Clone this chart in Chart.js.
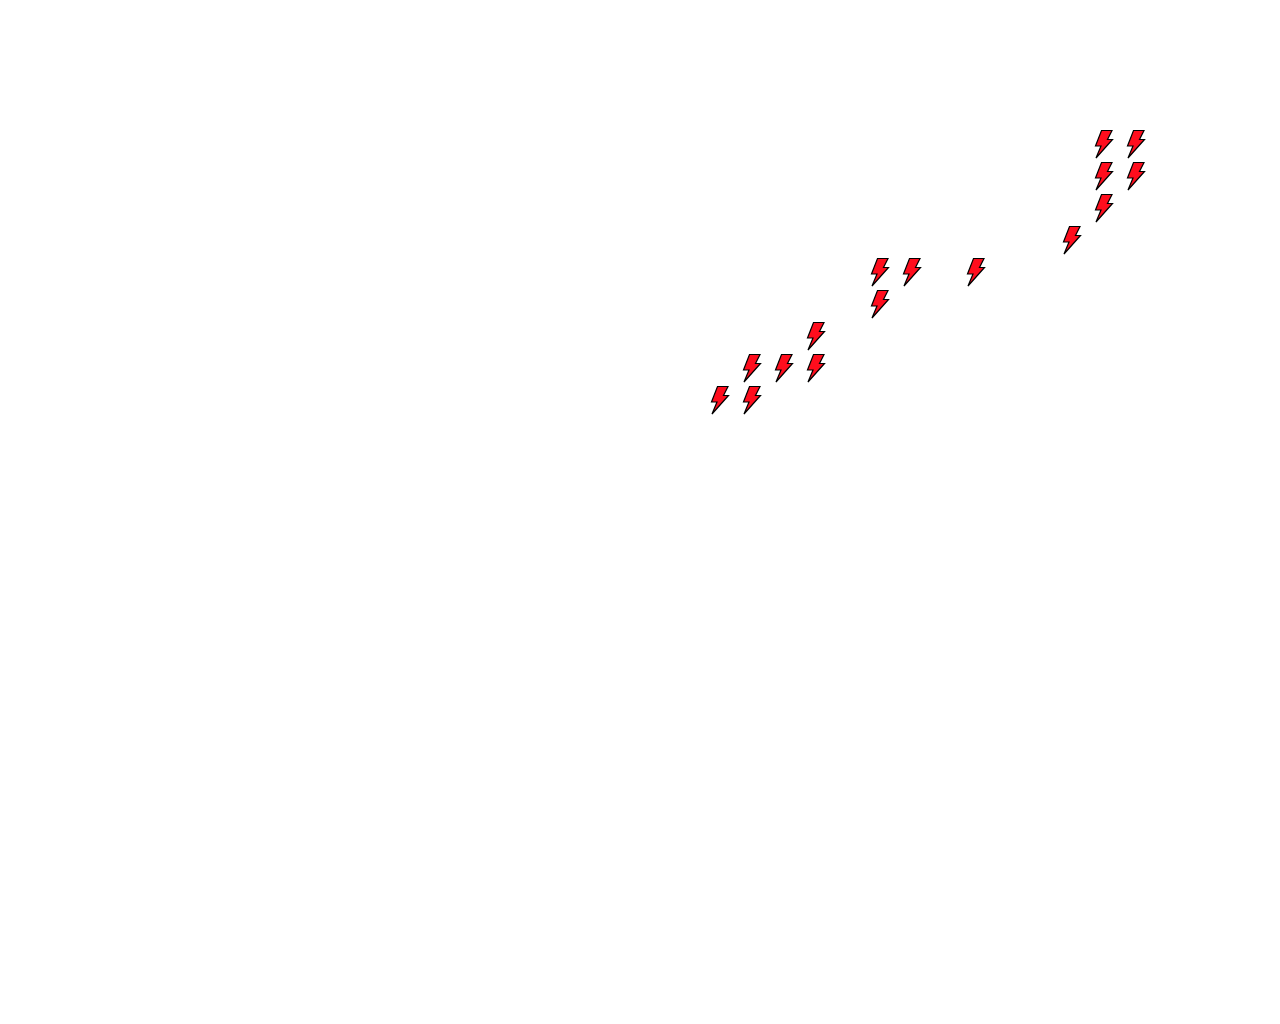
<!DOCTYPE html>
<html>
<head>
<meta charset="utf-8">
<title>Bolt scatter</title>
<script src="https://cdn.jsdelivr.net/npm/chart.js@4/dist/chart.umd.min.js"></script>
<style>
  html, body { margin: 0; padding: 0; background: #fff; overflow: hidden; }
  #wrap { width: 1280px; height: 1024px; }
</style>
</head>
<body>
<div id="wrap"><canvas id="chart" width="1280" height="1024"></canvas></div>
<script>
// values, in grid steps
const xValues = [0, 1, 1, 2, 3, 3, 5, 5, 6, 8, 11, 12, 12, 12, 13, 13];
const yValues = [0, 0, 1, 1, 1, 2, 3, 4, 4, 4, 5, 6, 7, 8, 7, 8];

// lightning bolt marker
function makeBolt() {
  const c = document.createElement('canvas');
  c.width = 26;
  c.height = 36;
  const g = c.getContext('2d');
  g.beginPath();
  g.moveTo(10.5, 4.5);
  g.lineTo(21, 4.5);
  g.lineTo(16.5, 13.5);
  g.lineTo(21.5, 13.5);
  g.lineTo(5, 32);
  g.lineTo(10, 20);
  g.lineTo(4.5, 20);
  g.closePath();
  g.fillStyle = '#ff0d1d';
  g.fill();
  g.strokeStyle = '#000';
  g.lineWidth = 1.2;
  g.lineJoin = 'miter';
  g.miterLimit = 3;
  g.stroke();
  return c;
}

const bolt = makeBolt();

new Chart(document.getElementById('chart'), {
  type: 'scatter',
  data: {
    datasets: [{
      data: xValues.map((x, i) => ({ x: x, y: yValues[i] })),
      pointStyle: bolt,
      pointRadius: 13
    }]
  },
  options: {
    responsive: false,
    animation: false,
    layout: { padding: 0, autoPadding: false },
    plugins: { legend: { display: false }, tooltip: { enabled: false } },
    scales: {
      x: { display: false, min: -22.5, max: 17.5 },
      y: { display: false, min: -19.5, max: 12.5 }
    }
  }
});
</script>
</body>
</html>
